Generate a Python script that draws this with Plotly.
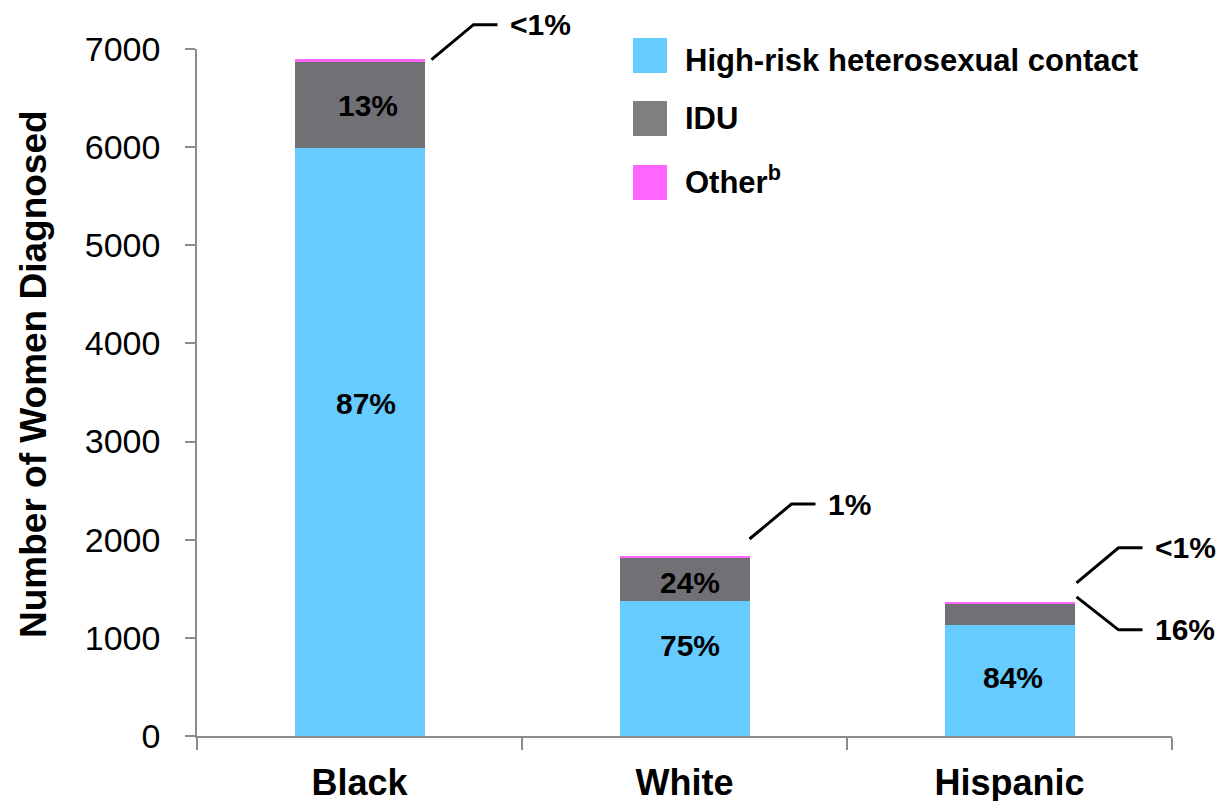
import plotly.graph_objects as go

# ---- data ----
categories = ["Black", "White", "Hispanic"]
heterosexual = [5990, 1376, 1134]
idu = [876, 441, 211]
other = [35, 17, 12]
hetero_labels = ["87%", "75%", "84%"]
idu_labels = ["13%", "24%", ""]
other_labels = ["<1%", "1%", "<1%"]
hisp_idu_callout = "16%"
series_names = ["High-risk heterosexual contact", "IDU", "Other<sup>b</sup>"]
y_ticks = [0, 1000, 2000, 3000, 4000, 5000, 6000, 7000]

# ---- style ----
FONT = "Liberation Sans, Arial, sans-serif"
BLUE, GRAY, PINK = "#66CCFF", "#717075", "#FF66FF"
LEG_GRAY = "#7F7F7F"
W, H = 1221, 801
ML, MR, MT, MB = 197, 49, 49, 65
PW, PH = W - ML - MR, H - MT - MB
YMAX = 7000


def px2x(px):
    return (px - ML) / PW


def px2y(py):
    return (H - MB - py) / PH


def cat_px(i):
    return ML + (i + 0.5) * PW / len(categories)


def val_py(v):
    return H - MB - v / YMAX * PH


fig = go.Figure()
for name, vals, col in [(series_names[0], heterosexual, BLUE),
                        (series_names[1], idu, GRAY),
                        (series_names[2], other, PINK)]:
    fig.add_trace(go.Bar(x=categories, y=vals, name=name, marker_color=col,
                         marker_line_width=0, width=0.4, showlegend=False))

annotations = []
shapes = []

# in-bar labels (label heights in data units)
hetero_label_y = [3390, 922, 601]
idu_label_y = [6424, 1564, None]
hetero_shift = [6, 5, 3]
idu_shift = [8, 5, 0]
for i, c in enumerate(categories):
    annotations.append(dict(x=c, y=hetero_label_y[i], xref="x", yref="y",
                            text="<b>%s</b>" % hetero_labels[i], showarrow=False,
                            xshift=hetero_shift[i],
                            font=dict(family=FONT, size=30, color="black")))
    if idu_labels[i]:
        annotations.append(dict(x=c, y=idu_label_y[i], xref="x", yref="y",
                                text="<b>%s</b>" % idu_labels[i], showarrow=False,
                                xshift=idu_shift[i],
                                font=dict(family=FONT, size=30, color="black")))

# callouts for the thin segments
LINE = dict(color="black", width=3)
half_bar = 0.4 * PW / len(categories) / 2
start_dx = [7, 0, 2]      # px right of the bar edge where the callout begins
start_gap = [-1, 17, 20]  # px above the stack top where the callout begins
for i in range(len(categories)):
    total = heterosexual[i] + idu[i] + other[i]
    x0 = cat_px(i) + half_bar + start_dx[i]
    y0 = val_py(total) - start_gap[i]
    x1, y1 = x0 + 42, y0 - 35
    x2 = x1 + 24
    shapes.append(dict(type="path", xref="paper", yref="paper",
                       path="M %f %f L %f %f L %f %f" % (px2x(x0), px2y(y0), px2x(x1), px2y(y1), px2x(x2), px2y(y1)),
                       line=LINE))
    annotations.append(dict(x=px2x(x2 + 10), y=px2y(y1), xref="paper", yref="paper",
                            xanchor="left", yanchor="middle", showarrow=False,
                            text="<b>%s</b>" % other_labels[i],
                            font=dict(family=FONT, size=30, color="black")))
# Hispanic IDU callout (below)
i = 2
total = heterosexual[i] + idu[i] + other[i]
x0 = cat_px(i) + half_bar + 2
y0 = val_py(total) - 6
x1, y1 = x0 + 42, y0 + 33
x2 = x1 + 24
shapes.append(dict(type="path", xref="paper", yref="paper",
                   path="M %f %f L %f %f L %f %f" % (px2x(x0), px2y(y0), px2x(x1), px2y(y1), px2x(x2), px2y(y1)),
                   line=LINE))
annotations.append(dict(x=px2x(x2 + 10), y=px2y(y1), xref="paper", yref="paper",
                        xanchor="left", yanchor="middle", showarrow=False,
                        text="<b>%s</b>" % hisp_idu_callout,
                        font=dict(family=FONT, size=30, color="black")))

# custom legend
leg_cols = [BLUE, LEG_GRAY, PINK]
leg_top = [38, 101, 165]
leg_text_y = [60, 118, 180]
for name, col, top, ty in zip(series_names, leg_cols, leg_top, leg_text_y):
    shapes.append(dict(type="rect", xref="paper", yref="paper",
                       x0=px2x(633), x1=px2x(667), y0=px2y(top), y1=px2y(top + 35),
                       fillcolor=col, line_width=0))
    annotations.append(dict(x=px2x(683), y=px2y(ty), xref="paper", yref="paper",
                            xanchor="left", yanchor="middle", showarrow=False,
                            text="<b>%s</b>" % name,
                            font=dict(family=FONT, size=31, color="black")))

# y-axis title
annotations.append(dict(x=px2x(33), y=px2y(374), xref="paper", yref="paper",
                        textangle=-90, showarrow=False, xanchor="center", yanchor="middle",
                        text="<b>Number of Women Diagnosed</b>",
                        font=dict(family=FONT, size=37, color="black")))

fig.update_layout(
    barmode="stack",
    width=W, height=H,
    margin=dict(l=ML, r=MR, t=MT, b=MB, pad=0, autoexpand=False),
    paper_bgcolor="white", plot_bgcolor="white",
    annotations=annotations, shapes=shapes,
    showlegend=False,
    xaxis=dict(type="category", range=[-0.5, 2.5], showline=True, linecolor="#8C8C8C",
               linewidth=1.5, ticks="outside", tickson="boundaries", ticklen=12,
               tickcolor="#8C8C8C", tickwidth=1.5, showgrid=False, automargin=False,
               tickfont=dict(family=FONT, size=36, color="black", weight="bold"),
               ticklabelstandoff=14),
    yaxis=dict(range=[0, YMAX], tickvals=y_ticks, showline=True, linecolor="#8C8C8C",
               linewidth=1.5, ticks="outside", ticklen=10, tickcolor="#8C8C8C",
               tickwidth=1.5, showgrid=False, zeroline=False, automargin=False,
               tickfont=dict(family=FONT, size=34, color="black"),
               ticklabelstandoff=18),
)

fig.write_html("out.html")
